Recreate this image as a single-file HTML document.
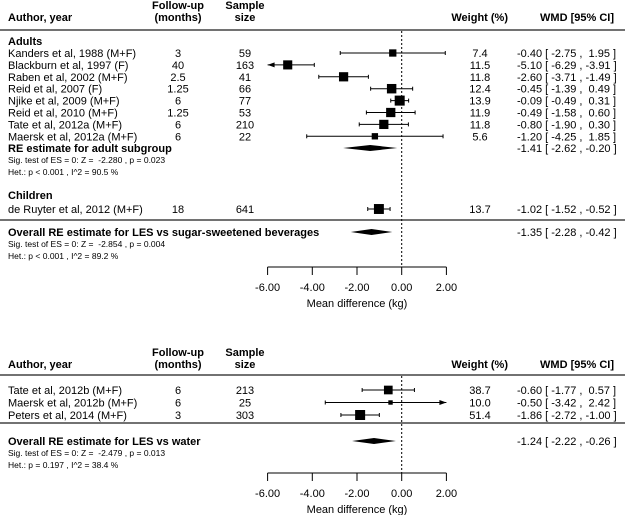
<!DOCTYPE html>
<html><head><meta charset="utf-8"><style>
body{margin:0;background:#fff}
svg{display:block;font-family:"Liberation Sans",Arial,sans-serif}
text{white-space:pre}
</style></head><body>
<svg id="c" width="625" height="515"></svg>
<script>
const topStudies=["Kanders et al, 1988 (M+F)","Blackburn et al, 1997 (F)","Raben et al, 2002 (M+F)","Reid et al, 2007 (F)","Njike et al, 2009 (M+F)","Reid et al, 2010 (M+F)","Tate et al, 2012a (M+F)","Maersk et al, 2012a (M+F)"];
const topFollow=["3","40","2.5","1.25","6","1.25","6","6"];
const topN=["59","163","41","66","77","53","210","22"];
const topEst=[-0.40,-5.10,-2.60,-0.45,-0.09,-0.49,-0.80,-1.20];
const topLo=[-2.75,-6.29,-3.71,-1.39,-0.49,-1.58,-1.90,-4.25];
const topHi=[1.95,-3.91,-1.49,0.49,0.31,0.60,0.30,1.85];
const topW=[7.4,11.5,11.8,12.4,13.9,11.9,11.8,5.6];
const adultSum=[-1.41,-2.62,-0.20];
const childStudy=["de Ruyter et al, 2012 (M+F)"];
const childFollow=["18"];const childN=["641"];
const childEst=[-1.02];const childLo=[-1.52];const childHi=[-0.52];const childW=[13.7];
const overallTop=[-1.35,-2.28,-0.42];
const botStudies=["Tate et al, 2012b (M+F)","Maersk et al, 2012b (M+F)","Peters et al, 2014 (M+F)"];
const botFollow=["6","6","3"];const botN=["213","25","303"];
const botEst=[-0.60,-0.50,-1.86];const botLo=[-1.77,-3.42,-2.72];const botHi=[0.57,2.42,-1.00];
const botW=[38.7,10.0,51.4];
const overallBot=[-1.24,-2.22,-0.26];
const ticks=[-6,-4,-2,0,2];
const tickLabels=["-6.00","-4.00","-2.00","0.00","2.00"];

const svg=document.getElementById('c');const NS="http://www.w3.org/2000/svg";
const X=v=>401.7+v*22.35;
function el(t,a,name){const e=document.createElementNS(NS,t);for(const k in a)e.setAttribute(k,a[k]);


svg.appendChild(e);return e;}
function txt(x,y,s,name,size,anchor,bold){const e=el('text',{x:x,y:y,'font-size':size||11,'text-anchor':anchor||'start'},name);if(bold)e.setAttribute('font-weight','bold');e.textContent=s;return e;}
const f=v=>(v<0?"-":" ")+Math.abs(v).toFixed(2);
function ci(e,l,h){return f(e)+" [ "+f(l)+" , "+f(h)+" ]";}
function header(y0){
 txt(8,y0+12,"Author, year","header-author",11,'start',true);
 txt(178,y0,"Follow-up","header-followup",11,'middle',true);
 txt(178,y0+12,"(months)","header-months",11,'middle',true);
 txt(245,y0,"Sample","header-sample",11,'middle',true);
 txt(245,y0+12,"size","header-size",11,'middle',true);
 txt(508,y0+12,"Weight (%)","header-weight",11,'end',true);
 txt(614,y0+12,"WMD [95% CI]","header-wmd",11,'end',true);
}
function hline(y,name){el('line',{x1:0,x2:625,y1:y,y2:y,stroke:'#444','stroke-width':1.5},name);}
function row(y,name,fu,n,e,l,h,w,maxW){
 txt(8,y+4,name,"study-label");txt(178,y+4,fu,"followup-value",11,'middle');txt(245,y+4,n,"sample-value",11,'middle');
 const lo=Math.max(l,-6),hi=Math.min(h,2);
 el('line',{x1:X(lo),x2:X(hi),y1:y,y2:y,stroke:'#000','stroke-width':1},"ci-line");
 if(l>=-6)el('line',{x1:X(l),x2:X(l),y1:y-2,y2:y+2,stroke:'#000'},"ci-cap-low");
 else el('polygon',{points:`${X(-6)},${y} ${X(-6)+7},${y-2.5} ${X(-6)+7},${y+2.5}`,fill:'#000'},"ci-arrow-left");
 if(h<=2)el('line',{x1:X(h),x2:X(h),y1:y-2,y2:y+2,stroke:'#000'},"ci-cap-high");
 else el('polygon',{points:`${X(2)},${y} ${X(2)-7},${y-2.5} ${X(2)-7},${y+2.5}`,fill:'#000'},"ci-arrow-right");
 const s=Math.max(2,10*Math.sqrt(w/maxW));
 el('rect',{x:X(e)-s/2,y:y-s/2,width:s,height:s,fill:'#000'},"point-estimate");
 txt(480,y+4,w.toFixed(1),"weight-value",11,'middle');
 txt(517,y+4,ci(e,l,h),"wmd-value");
}
function diamond(y,d,name){el('polygon',{points:`${X(d[1])},${y} ${X(d[0])},${y-3} ${X(d[2])},${y} ${X(d[0])},${y+3}`,fill:'#000'},name);
 txt(517,y+4,ci(d[0],d[1],d[2]),"summary-wmd");}
function axis(y,name){
 el('line',{x1:X(-6),x2:X(2),y1:y,y2:y,stroke:'#000'},name+"-line");
 ticks.forEach((t,i)=>{el('line',{x1:X(t),x2:X(t),y1:y,y2:y+8,stroke:'#000'},"tick");txt(X(t),y+24,tickLabels[i],"tick-label",11,'middle');});
 txt(X(-2),y+40,"Mean difference (kg)","x-axis-title",11,'middle');
}
// top panel
header(9);hline(30,"header-rule");
txt(8,45,"Adults","adults-heading",11,'start',true);
const mT=Math.max(...topW,...childW);
topStudies.forEach((s,i)=>row(53+i*11.9,s,topFollow[i],topN[i],topEst[i],topLo[i],topHi[i],topW[i],mT));
txt(8,152,"RE estimate for adult subgroup","adult-summary-label",11,'start',true);diamond(148,adultSum,"adult-diamond");
txt(8,163,"Sig. test of ES = 0: Z =  -2.280 , p = 0.023","adult-sig",8.5);
txt(8,175,"Het.: p < 0.001 , I^2 = 90.5 %","adult-het",8.5);
txt(8,199,"Children","children-heading",11,'start',true);
row(209,childStudy[0],childFollow[0],childN[0],childEst[0],childLo[0],childHi[0],childW[0],mT);
hline(220,"overall-rule");
txt(8,236,"Overall RE estimate for LES vs sugar-sweetened beverages","overall-label",11,'start',true);diamond(232,overallTop,"overall-diamond");
txt(8,247,"Sig. test of ES = 0: Z =  -2.854 , p = 0.004","overall-sig",8.5);
txt(8,259,"Het.: p < 0.001 , I^2 = 89.2 %","overall-het",8.5);
el('line',{x1:X(0),x2:X(0),y1:31,y2:267,stroke:'#000','stroke-dasharray':'2,2'},"null-line");
axis(267,"x-axis");
// bottom panel
header(356);hline(375,"header-rule-2");
const mB=Math.max(...botW);
botStudies.forEach((s,i)=>row(390+i*12.5,s,botFollow[i],botN[i],botEst[i],botLo[i],botHi[i],botW[i],mB));
hline(423,"overall-rule-2");
txt(8,445,"Overall RE estimate for LES vs water","overall-water-label",11,'start',true);diamond(441,overallBot,"overall-water-diamond");
txt(8,456,"Sig. test of ES = 0: Z =  -2.479 , p = 0.013","water-sig",8.5);
txt(8,468,"Het.: p = 0.197 , I^2 = 38.4 %","water-het",8.5);
el('line',{x1:X(0),x2:X(0),y1:376,y2:473,stroke:'#000','stroke-dasharray':'2,2'},"null-line-2");
axis(473,"x-axis-2");
</script>
</body></html>
